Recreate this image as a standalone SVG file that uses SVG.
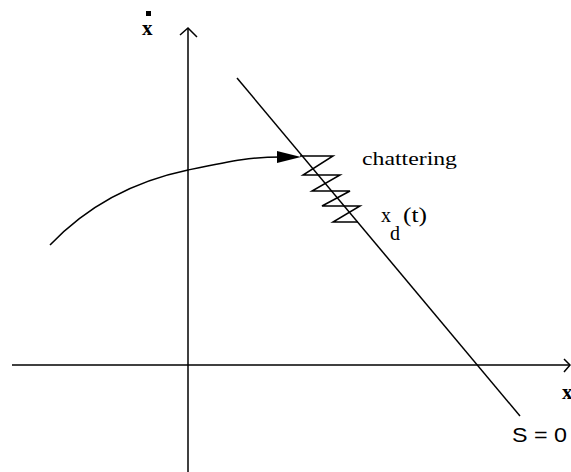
<svg xmlns="http://www.w3.org/2000/svg" width="571" height="472" viewBox="0 0 571 472">
<style>
.ln{fill:none;stroke:#000;stroke-width:1.5;stroke-linejoin:miter}
text{fill:#000}
</style>
<rect width="571" height="472" fill="#fff"/>
<g id="axes">
<line class="ln" x1="188" y1="29" x2="188" y2="472"/>
<polyline class="ln" points="180,35 188,28 197,37"/>
<line class="ln" x1="12" y1="365" x2="570" y2="365"/>
<polyline class="ln" points="564,359 570,365 564,372"/>
</g>
<g id="connectors">
<line id="sliding-surface" class="ln" x1="237" y1="78" x2="520" y2="416"/>
<path id="trajectory" class="ln" d="M50,245 C90,203 140,180 188,170 S250,157 282,157"/>
<polygon points="277,151 301,157 277,163" fill="#000"/>
<polyline id="zigzag" class="ln" points="300,156 333,156 303,175 340,175 312,191 350,191 322,206 360,206 333,222 358,222"/>
</g>
<g id="labels">
<rect x="146" y="11" width="5" height="5" fill="#000"/>
<text font-family="'Liberation Serif', 'DejaVu Serif', serif" x="142" y="35" font-size="21" font-weight="bold">x</text>
<text font-family="'Liberation Serif', 'DejaVu Serif', serif" x="562" y="399" font-size="21" font-weight="bold">x</text>
<text font-family="'Liberation Serif', 'DejaVu Serif', serif" x="362" y="165" font-size="18" textLength="95" lengthAdjust="spacingAndGlyphs">chattering</text>
<text font-family="'Liberation Serif', 'DejaVu Serif', serif" x="381" y="222" font-size="20">x</text>
<text font-family="'Liberation Serif', 'DejaVu Serif', serif" x="390" y="240" font-size="20">d</text>
<text font-family="'Liberation Serif', 'DejaVu Serif', serif" x="403" y="222" font-size="22" textLength="24" lengthAdjust="spacingAndGlyphs">(t)</text>
<text font-family="'Liberation Sans', Arial, sans-serif" x="512" y="442" font-size="21" textLength="55" lengthAdjust="spacingAndGlyphs">S = 0</text>
</g>
</svg>
